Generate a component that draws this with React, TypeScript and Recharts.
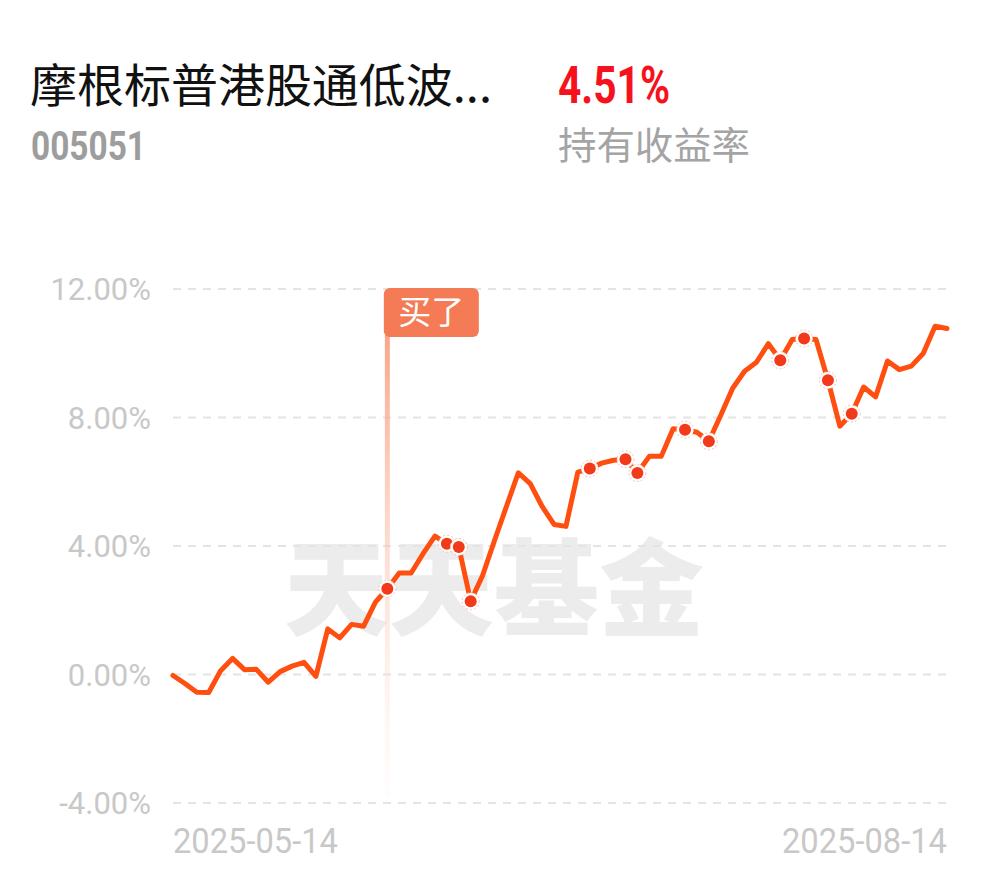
import React from "react";
import { LineChart, Line, XAxis, YAxis, CartesianGrid, ReferenceLine } from "recharts";

// trading days, 2025-05-14 .. 2025-08-14
const dates = [
  "2025-05-14", "2025-05-15", "2025-05-16", "2025-05-19", "2025-05-20", "2025-05-21", "2025-05-22",
  "2025-05-23", "2025-05-26", "2025-05-27", "2025-05-28", "2025-05-29", "2025-05-30",
  "2025-06-03", "2025-06-04", "2025-06-05", "2025-06-06", "2025-06-09", "2025-06-10", "2025-06-11",
  "2025-06-12", "2025-06-13", "2025-06-16", "2025-06-17", "2025-06-18", "2025-06-19", "2025-06-20",
  "2025-06-23", "2025-06-24", "2025-06-25", "2025-06-26", "2025-06-27", "2025-06-30",
  "2025-07-01", "2025-07-02", "2025-07-03", "2025-07-04", "2025-07-07", "2025-07-08", "2025-07-09",
  "2025-07-10", "2025-07-11", "2025-07-14", "2025-07-15", "2025-07-16", "2025-07-17", "2025-07-18",
  "2025-07-21", "2025-07-22", "2025-07-23", "2025-07-24", "2025-07-25", "2025-07-28", "2025-07-29",
  "2025-07-30", "2025-07-31",
  "2025-08-01", "2025-08-04", "2025-08-05", "2025-08-06", "2025-08-07", "2025-08-08", "2025-08-11",
  "2025-08-12", "2025-08-13", "2025-08-14",
];

// cumulative return, %
const returns = [
  -0.03, -0.28, -0.55, -0.56, 0.12, 0.5, 0.15, 0.16, -0.24, 0.09, 0.26, 0.38, -0.06,
  1.42, 1.14, 1.56, 1.5, 2.25, 2.67, 3.16, 3.16, 3.76, 4.31, 4.07, 3.97, 2.28, 3.08,
  4.17, 5.23, 6.28, 5.94, 5.23, 4.67,
  4.61, 6.3, 6.41, 6.58, 6.67, 6.7, 6.27, 6.79, 6.79, 7.65, 7.62, 7.54, 7.26, 8.07,
  8.91, 9.44, 9.72, 10.3, 9.78, 10.43, 10.46, 10.43, 9.16,
  7.73, 8.12, 8.95, 8.64, 9.76, 9.49, 9.6, 9.99, 10.84, 10.77,
];

const markedDates = [
  "2025-06-10", "2025-06-17", "2025-06-18", "2025-06-19", "2025-07-03", "2025-07-08", "2025-07-09",
  "2025-07-15", "2025-07-17", "2025-07-25", "2025-07-29", "2025-07-31", "2025-08-04",
];
const buyDate = "2025-06-10";
const yTicks = [-4, 0, 4, 8, 12];
const xTicks = [dates[0], dates[dates.length - 1]];

const fundName = "摩根标普港股通低波...";
const fundCode = "005051";
const holdingReturn = "4.51%";
const holdingLabel = "持有收益率";
const buyLabel = "买了";
const watermark = "天天基金";

const data = dates.map((date, i) => ({ date, value: returns[i] }));

const LINE = "#ff4f10";
const AXIS_TEXT = "#c8c8c8";

const renderDot = (props: any) => {
  const { cx, cy, payload, index } = props;
  if (!markedDates.includes(payload.date)) return <g key={`d-${index}`} />;
  return (
    <g key={`d-${index}`}>
      <circle cx={cx} cy={cy} r={8.5} fill="#fff" stroke="#f7c0ae" strokeWidth={1} strokeDasharray="2 2" />
      <circle cx={cx} cy={cy} r={6} fill="#f23a1a" />
    </g>
  );
};

const BuyMarker = (props: any) => {
  const { x, y, height } = props.viewBox;
  return (
    <g>
      <rect x={x - 2.5} y={y + 46} width={5} height={height - 52} fill="url(#buyFade)" />
      <rect x={x - 3.5} y={y - 1} width={95} height={49} rx={6} fill="#f47b55" />
      <text
        x={x + 44}
        y={y + 35}
        textAnchor="middle"
        fill="#fff"
        fontSize={33}
        fontFamily="Noto Sans CJK SC, sans-serif"
      >
        {buyLabel}
      </text>
    </g>
  );
};

const DateTick = (props: any) => {
  const { x, y, payload } = props;
  const first = payload.value === xTicks[0];
  return (
    <text
      x={x}
      y={y + 50}
      textAnchor={first ? "start" : "end"}
      fill={AXIS_TEXT}
      fontSize={35}
      fontFamily="Roboto, sans-serif"
      textLength={165}
      lengthAdjust="spacingAndGlyphs"
    >
      {payload.value}
    </text>
  );
};

export default function App() {
  return (
    <div style={{ position: "relative", width: 990, height: 878, background: "#fff", overflow: "hidden" }}>
      <style>{"body{margin:0}"}</style>
      <div
        style={{
          position: "absolute",
          left: 284,
          top: 511,
          fontSize: 105,
          fontWeight: 900,
          lineHeight: "140px",
          color: "#ececec",
          fontFamily: "Noto Sans CJK SC, sans-serif",
          whiteSpace: "nowrap",
        }}
      >
        {watermark}
      </div>
      <svg width={990} height={200} style={{ position: "absolute", left: 0, top: 0 }}>
        <text
          x={30}
          y={102}
          fontSize={46}
          fill="#111"
          fontFamily="Noto Sans CJK SC, sans-serif"
          textLength={462}
          lengthAdjust="spacingAndGlyphs"
        >
          {fundName}
        </text>
        <text
          x={558}
          y={103}
          fontSize={52}
          fontWeight={700}
          fill="#f5121c"
          fontFamily="Roboto, sans-serif"
          textLength={112}
          lengthAdjust="spacingAndGlyphs"
        >
          {holdingReturn}
        </text>
        <text
          x={31}
          y={160}
          fontSize={40}
          fontWeight={700}
          fill="#9d9d9d"
          fontFamily="Roboto, sans-serif"
          textLength={115}
          lengthAdjust="spacingAndGlyphs"
        >
          {fundCode}
        </text>
        <text
          x={558}
          y={159}
          fontSize={38}
          fill="#a4a4a4"
          fontFamily="Noto Sans CJK SC, sans-serif"
          textLength={192}
          lengthAdjust="spacingAndGlyphs"
        >
          {holdingLabel}
        </text>
      </svg>
      <div style={{ position: "absolute", left: 0, top: 0 }}>
        <LineChart width={990} height={878} data={data} margin={{ top: 289, right: 43, bottom: 0, left: 0 }}>
          <defs>
            <linearGradient id="buyFade" x1="0" y1="0" x2="0" y2="1">
              <stop offset="0%" stopColor="#f8a284" stopOpacity={0.95} />
              <stop offset="100%" stopColor="#fde8df" stopOpacity={0.1} />
            </linearGradient>
          </defs>
          <CartesianGrid vertical={false} stroke="#e4e4e4" strokeWidth={2} strokeDasharray="8 7" />
          <XAxis
            dataKey="date"
            ticks={xTicks}
            interval={0}
            height={75}
            axisLine={false}
            tickLine={false}
            tickSize={0}
            tickMargin={0}
            tick={<DateTick />}
          />
          <YAxis
            domain={[-4, 12]}
            ticks={yTicks}
            width={173}
            axisLine={false}
            tickLine={false}
            tickSize={0}
            tickMargin={22}
            tick={{ fill: AXIS_TEXT, fontSize: 31, fontFamily: "Roboto, sans-serif" }}
            tickFormatter={(v: number) => `${v.toFixed(2)}%`}
          />
          <ReferenceLine x={buyDate} stroke="none" label={BuyMarker} />
          <Line
            type="linear"
            dataKey="value"
            stroke={LINE}
            strokeWidth={5}
            strokeLinejoin="round"
            strokeLinecap="round"
            dot={renderDot}
            activeDot={false}
            isAnimationActive={false}
          />
        </LineChart>
      </div>
    </div>
  );
}
